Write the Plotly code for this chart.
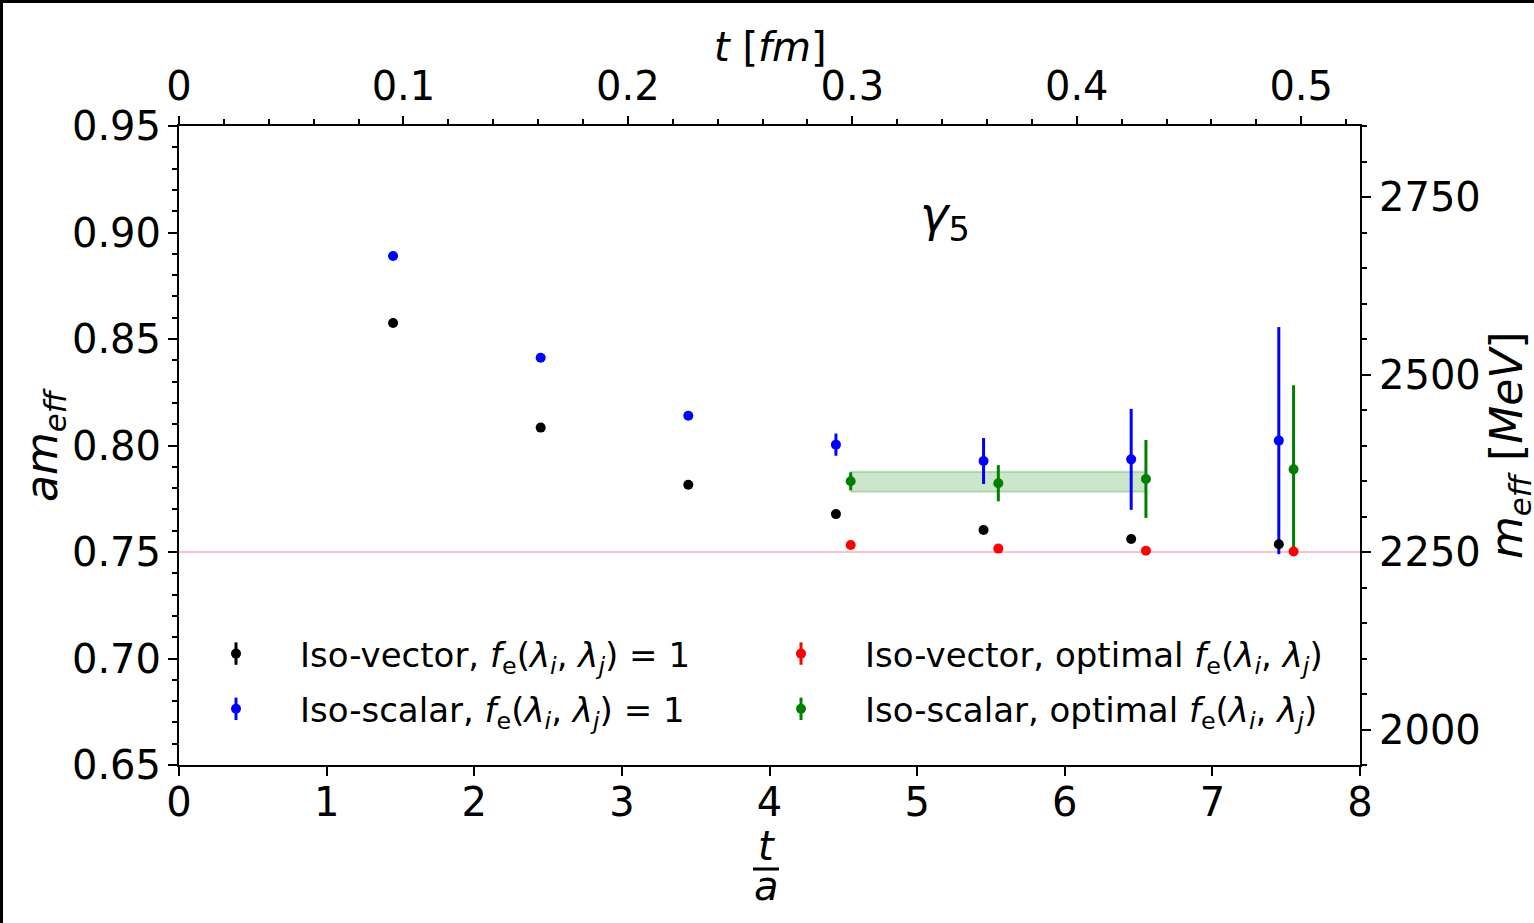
import plotly.graph_objects as go

# Effective mass of the gamma_5 channel vs Euclidean time t/a
HBARC_MEV_FM = 197.327
INV_A_MEV = 3000.0            # lattice scale 1/a in MeV
A_FM = HBARC_MEV_FM / INV_A_MEV

# Iso-vector, f_e = 1
t_iv = [1.45, 2.45, 3.45, 4.45, 5.45, 6.45, 7.45]
am_iv = [0.8575, 0.8084, 0.7816, 0.7678, 0.7603, 0.7561, 0.7536]
err_iv = [0.0004, 0.0004, 0.0004, 0.0005, 0.0006, 0.0008, 0.0010]

# Iso-scalar, f_e = 1
t_is = [1.45, 2.45, 3.45, 4.45, 5.45, 6.45, 7.45]
am_is = [0.8890, 0.8412, 0.8140, 0.8004, 0.7927, 0.7935, 0.8023]
err_is = [0.0005, 0.0008, 0.0015, 0.0052, 0.0108, 0.0237, 0.0533]

# Iso-vector, optimal f_e
t_iv_opt = [4.55, 5.55, 6.55, 7.55]
am_iv_opt = [0.7533, 0.7516, 0.7506, 0.7502]
err_iv_opt = [0.0004, 0.0005, 0.0006, 0.0008]

# Iso-scalar, optimal f_e
t_is_opt = [4.55, 5.55, 6.55, 7.55]
am_is_opt = [0.7832, 0.7823, 0.7843, 0.7888]
err_is_opt = [0.0042, 0.0085, 0.0183, 0.0395]

# Plateau fit of the optimal iso-scalar data
fit_t = [4.55, 6.55]
fit_val = 0.7830
fit_err = 0.0047

# Reference level
ref_level = 0.75

FONT = "DejaVu Sans"
BLACK, BLUE, RED, GREEN = "#000000", "#0000ff", "#ff0000", "#008000"

FE = "<i>f</i><sub>e</sub>(<i>λ</i><sub><i>i</i></sub>, <i>λ</i><sub><i>j</i></sub>)"
# drawing order: wide error bars first so the iso-vector dots stay on top
series = [
    ("Iso-scalar, " + FE + " = 1", t_is, am_is, err_is, BLUE, "legend", "legend3", 2),
    ("Iso-scalar, optimal " + FE, t_is_opt, am_is_opt, err_is_opt, GREEN, "legend2", "legend4", 2),
    ("Iso-vector, " + FE + " = 1", t_iv, am_iv, err_iv, BLACK, "legend", "legend3", 1),
    ("Iso-vector, optimal " + FE, t_iv_opt, am_iv_opt, err_iv_opt, RED, "legend2", "legend4", 1),
]

fig = go.Figure()

# fit band
band_x = [fit_t[0], fit_t[1], fit_t[1], fit_t[0], fit_t[0]]
band_y = [fit_val - fit_err, fit_val - fit_err, fit_val + fit_err,
          fit_val + fit_err, fit_val - fit_err]
fig.add_trace(go.Scatter(
    x=band_x, y=band_y, mode="lines", fill="toself",
    fillcolor="rgba(0,128,0,0.2)", line=dict(color="rgba(0,128,0,0.22)", width=2),
    showlegend=False, hoverinfo="skip"))

for name, tx, ty, te, col, leg, _, rank in series:
    fig.add_trace(go.Scatter(
        x=tx, y=ty, mode="markers", name=name,
        marker=dict(color=col, size=10),
        error_y=dict(type="data", array=te, visible=True, color=col,
                     thickness=3, width=0),
        legend=leg, legendgroup=name, legendrank=rank))

# same iso-vector data in physical units, carried by the top/right axes
fig.add_trace(go.Scatter(
    x=[t * A_FM for t in t_iv], y=[v * INV_A_MEV for v in am_iv],
    xaxis="x2", yaxis="y2", mode="markers",
    marker=dict(color=BLACK, size=10, opacity=0),
    showlegend=False, hoverinfo="skip"))

# vertical-bar glyphs overlaid on the legend dots
for name, tx, ty, te, col, _, leg_bar, rank in series:
    fig.add_trace(go.Scatter(
        x=[None], y=[None], mode="markers", name=name,
        marker=dict(symbol="line-ns", size=16, color=col,
                    line=dict(color=col, width=3)),
        legend=leg_bar, legendgroup=name + "_bar", legendrank=rank,
        hoverinfo="skip"))

L, R, T, B = 179, 174, 126, 158
W, H = 1534, 923
PW, PH = W - L - R, H - T - B


def px(xp):
    return (xp - L) / PW


def py(yp):
    return (H - B - yp) / PH


tick_font = dict(family=FONT, size=40, color="black")
leg_font = dict(family=FONT, size=34, color="black")
clear_font = dict(family=FONT, size=34, color="rgba(0,0,0,0)")

common_leg = dict(bgcolor="rgba(0,0,0,0)", borderwidth=0, orientation="v",
                  itemwidth=118, tracegroupgap=8, xanchor="left",
                  yanchor="top", itemclick=False, itemdoubleclick=False)

LEG_TOP = 625
fig.update_layout(
    width=W, height=H,
    margin=dict(l=L, r=R, t=T, b=B),
    paper_bgcolor="white", plot_bgcolor="white",
    font=dict(family=FONT, color="black"),
    legend=dict(x=px(172), y=py(LEG_TOP), font=leg_font, **common_leg),
    legend2=dict(x=px(737), y=py(LEG_TOP), font=leg_font, **common_leg),
    legend3=dict(x=px(172), y=py(LEG_TOP), font=clear_font, **common_leg),
    legend4=dict(x=px(737), y=py(LEG_TOP), font=clear_font, **common_leg),
    xaxis=dict(range=[0, 8], dtick=1, tick0=0, showgrid=False, zeroline=False,
               showline=True, linecolor="black", linewidth=2,
               ticks="outside", ticklen=9, tickwidth=2, tickcolor="black",
               tickfont=tick_font, ticklabelstandoff=-8),
    xaxis2=dict(overlaying="x", side="top", range=[0, 8 * A_FM],
                tickvals=[0, 0.1, 0.2, 0.3, 0.4, 0.5],
                ticktext=["0", "0.1", "0.2", "0.3", "0.4", "0.5"],
                showgrid=False, zeroline=False,
                showline=True, linecolor="black", linewidth=2,
                ticks="outside", ticklen=8, tickwidth=2, tickcolor="black",
                minor=dict(dtick=0.02, tick0=0, ticks="outside", ticklen=5,
                           tickwidth=1.5, tickcolor="black", showgrid=False),
                tickfont=tick_font, ticklabelstandoff=0),
    yaxis=dict(range=[0.65, 0.95], dtick=0.05, tick0=0.65, tickformat=".2f",
               showgrid=False, zeroline=False,
               showline=True, linecolor="black", linewidth=2,
               ticks="outside", ticklen=9, tickwidth=2, tickcolor="black",
               minor=dict(dtick=0.01, tick0=0.65, ticks="outside", ticklen=5,
                          tickwidth=1.5, tickcolor="black", showgrid=False),
               tickfont=tick_font, ticklabelstandoff=-1),
    yaxis2=dict(overlaying="y", side="right",
                range=[0.65 * INV_A_MEV, 0.95 * INV_A_MEV],
                dtick=250, tick0=2000, showgrid=False, zeroline=False,
                showline=True, linecolor="black", linewidth=2,
                ticks="outside", ticklen=9, tickwidth=2, tickcolor="black",
                minor=dict(dtick=50, tick0=2000, ticks="outside", ticklen=5,
                           tickwidth=1.5, tickcolor="black", showgrid=False),
                tickfont=tick_font, ticklabelstandoff=0),
)

# reference level across the full axis
fig.add_shape(type="line", xref="paper", yref="y", x0=0, x1=1,
              y0=ref_level, y1=ref_level, layer="below",
              line=dict(color="pink", width=2))

# outer frame (left and top edges)
fig.add_shape(type="line", xref="paper", yref="paper",
              x0=px(1.5), x1=px(1.5), y0=py(H), y1=py(0),
              line=dict(color="black", width=3))
fig.add_shape(type="line", xref="paper", yref="paper",
              x0=px(0), x1=px(W), y0=py(1.5), y1=py(1.5),
              line=dict(color="black", width=3))

# channel label
fig.add_annotation(x=5.19, y=0.907, xref="x", yref="y",
                   text="<i>γ</i><sub>5</sub>", showarrow=False,
                   xanchor="center", yanchor="middle",
                   font=dict(family=FONT, size=48, color="black"))


def label(xp, yp, text, size, angle=0):
    fig.add_annotation(x=px(xp), y=py(yp), xref="paper", yref="paper",
                       text=text, showarrow=False, textangle=angle,
                       xanchor="center", yanchor="middle",
                       font=dict(family=FONT, size=size, color="black"))


label(770, 47, "<i>t</i> [<i>fm</i>]", 40)
label(44, 445, "<i>am</i><sub><i>eff</i></sub>", 44, -90)
label(1509, 445, "<i>m</i><sub><i>eff</i></sub> [<i>MeV</i>]", 44, -90)
# t/a fraction below the bottom axis
label(766, 846, "<i>t</i>", 40)
label(766, 886, "<i>a</i>", 40)
fig.add_shape(type="line", xref="paper", yref="paper",
              x0=px(753), x1=px(779), y0=py(869), y1=py(869),
              line=dict(color="black", width=3))

fig.write_html("out.html")
